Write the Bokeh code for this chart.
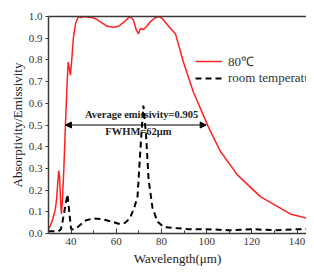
from bokeh.plotting import figure
from bokeh.models import (Range1d, LinearAxis, Legend, LegendItem, Arrow, NormalHead,
                          Label, SingleIntervalTicker, FixedTicker, CustomJSTickFormatter)
from bokeh.embed import file_html
from bokeh.resources import INLINE

# ---- data ----
hot_wl = [30, 31, 32, 33, 33.6, 34.0, 34.5, 34.9, 35.3, 35.7, 36.1, 36.8, 37.5, 38.2, 38.7,
          39.2, 39.7, 40.3, 41, 42, 43.3, 44.5, 45.5, 47, 49, 50.8, 53, 56, 58.8, 61, 63.5,
          66, 67.5, 68.8, 69.8, 70.7, 72, 73.5, 75, 77, 78.7, 80.5, 82, 84, 86.2, 89.7,
          94.2, 100.8, 106, 113.6, 123.8, 137, 147.7]
hot_val = [0.02, 0.04, 0.07, 0.11, 0.16, 0.22, 0.29, 0.26, 0.16, 0.09, 0.14, 0.3, 0.5, 0.68, 0.79,
           0.76, 0.73, 0.8, 0.9, 0.97, 1.0, 0.995, 1.0, 0.998, 0.995, 0.99, 0.975, 0.955, 0.95, 0.955, 0.975,
           1.0, 0.985, 0.94, 0.92, 0.945, 0.94, 0.955, 0.975, 0.993, 1.0, 0.99, 0.97, 0.945, 0.92, 0.79,
           0.65, 0.49, 0.38, 0.27, 0.17, 0.09, 0.062]

room_wl = [30, 32, 34.4, 35.5, 36.3, 37.5, 38.4, 39.2, 40, 41, 43, 46.4, 50, 54, 58, 61, 64,
           66, 68, 69.4, 70.7, 72, 73.2, 74.3, 76, 78.2, 81, 86, 92, 100, 110, 120, 130, 140, 147.7]
room_val = [0.01, 0.01, 0.01, 0.02, 0.06, 0.13, 0.18, 0.1, 0.02, 0.02, 0.03, 0.06, 0.07, 0.065, 0.055, 0.045, 0.05,
            0.07, 0.12, 0.17, 0.39, 0.59, 0.45, 0.25, 0.12, 0.055, 0.03, 0.025, 0.02, 0.02, 0.015, 0.02, 0.015, 0.02, 0.02]

series_labels = ["80\u2103", "room temperature"]
y_ticks = [0, 0.1, 0.2, 0.3, 0.4, 0.5, 0.6, 0.7, 0.8, 0.9, 1.0]
fwhm_start, fwhm_end, fwhm_level = 37.5, 99.8, 0.5
avg_text = "Average emissivity=0.905"
fwhm_text = "FWHM=62\u03bcm"

SERIF = "Liberation Serif"
AX = "#3a3a3a"

p = figure(width=306, height=268, output_backend="svg", toolbar_location=None,
           x_range=Range1d(30, 144.2), y_range=Range1d(0, 1.0),
           min_border_left=48, min_border_right=0, min_border_top=16, min_border_bottom=0,
           x_axis_label="Wavelength(\u03bcm)", y_axis_label="Absorptivity/Emissivity")
p.outline_line_color = None
p.grid.visible = False
p.background_fill_color = "white"

r1 = p.line(hot_wl, hot_val, line_color="#ff2020", line_width=1.5)
r2 = p.line(room_wl, room_val, line_color="black", line_width=2, line_dash="6 4")

xa = p.below[0]
ya = p.left[0]
xa.ticker = SingleIntervalTicker(interval=20, num_minor_ticks=2)
xa.major_tick_in = 5
xa.major_tick_out = 0
xa.minor_tick_in = 3
xa.minor_tick_out = 0
xa.minor_tick_line_color = AX
ya.ticker = FixedTicker(ticks=y_ticks)
ya.formatter = CustomJSTickFormatter(code="return tick.toFixed(1);")
ya.major_tick_in = 0
ya.major_tick_out = 3
ya.minor_tick_line_color = None
for ax in (xa, ya):
    ax.axis_line_color = AX
    ax.axis_line_width = 1.5
    ax.major_tick_line_color = AX
    ax.major_label_text_font = SERIF
    ax.major_label_text_font_size = "11px"
    ax.major_label_text_color = "#333333"
    ax.axis_label_text_font = SERIF
    ax.axis_label_text_font_size = "13px"
    ax.axis_label_text_font_style = "normal"
    ax.axis_label_text_color = "#222222"
xa.major_label_standoff = 4
xa.axis_label_standoff = 3
ya.major_label_standoff = 3
ya.axis_label_standoff = 1

# top frame line
top = LinearAxis(ticker=FixedTicker(ticks=[]), major_tick_line_color=None,
                 minor_tick_line_color=None, axis_line_color=AX, axis_line_width=1.5)
p.add_layout(top, "above")

legend = Legend(items=[LegendItem(label=series_labels[0], renderers=[r1]),
                       LegendItem(label=series_labels[1], renderers=[r2])],
                location=(147, 147), border_line_color=None, background_fill_alpha=0,
                padding=0, margin=0, spacing=-5, glyph_width=27, glyph_height=14,
                label_height=14, label_standoff=6, label_text_font=SERIF,
                label_text_font_size="13px", label_text_color="#333333")
p.add_layout(legend)

p.add_layout(Arrow(x_start=fwhm_start, x_end=fwhm_end, y_start=fwhm_level, y_end=fwhm_level,
                   line_color="black", line_width=1,
                   start=NormalHead(size=6, fill_color="black", line_color="black"),
                   end=NormalHead(size=6, fill_color="black", line_color="black")))
p.add_layout(Label(x=71.2, y=0.548, text=avg_text, text_font=SERIF, text_font_style="bold",
                   text_font_size="10.5px", text_align="center", text_baseline="middle",
                   text_color="#222222"))
p.add_layout(Label(x=69.8, y=0.47, text=fwhm_text, text_font=SERIF, text_font_style="bold",
                   text_font_size="10.5px", text_align="center", text_baseline="middle",
                   text_color="#222222"))

open("out.html", "w").write(file_html(p, INLINE))
